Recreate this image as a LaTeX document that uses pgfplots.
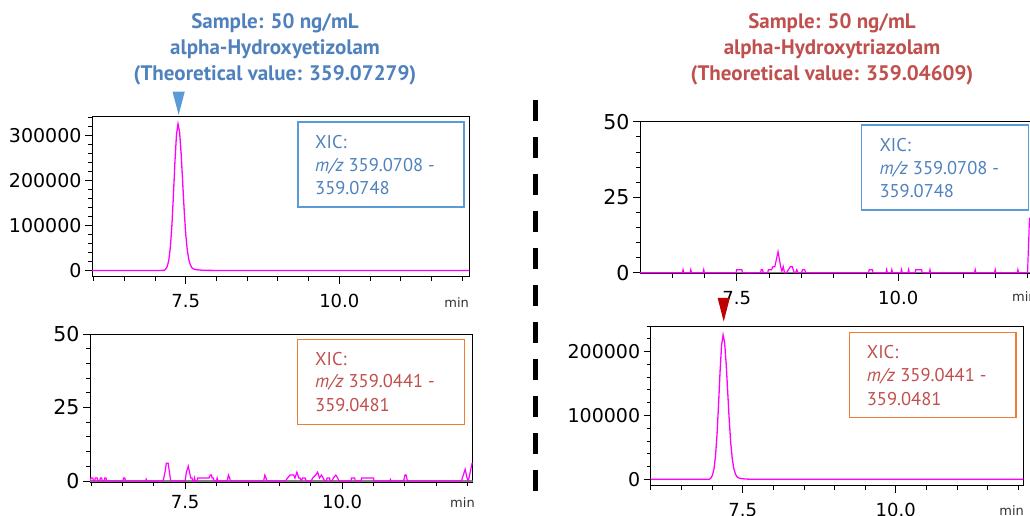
\documentclass[border=0pt]{standalone}
\usepackage{fontspec}
\setmainfont{PT Sans}
\newfontfamily\dejavu{DejaVu Sans}
\usepackage{pgfplots}
\pgfplotsset{compat=1.18}
\definecolor{tblue}{RGB}{79,129,189}
\definecolor{tred}{RGB}{192,80,77}
\definecolor{bblue}{RGB}{91,155,213}
\definecolor{borange}{RGB}{237,125,49}
\definecolor{arrred}{RGB}{192,0,0}
\definecolor{arrblue}{RGB}{91,155,213}
\definecolor{mag}{RGB}{255,0,255}

\pgfplotsset{chrom/.style={
  scale only axis, anchor=south west, clip mode=individual,
  axis line style={black, line width=0.8pt},
  tick style={black, line width=0.8pt},
  tick align=outside, tick pos=left,
  major tick length=7pt, minor tick length=4pt,
  xtick={7.5,10}, xticklabels={7.5,10.0},
  minor xtick={6,6.5,7,8,8.5,9,9.5,10.5,11,11.5,12},
  xticklabel style={font=\dejavu\fontsize{18}{18}\selectfont, yshift=-7pt},
  yticklabel style={font=\dejavu\fontsize{19}{19}\selectfont},
  scaled y ticks=false,
}}

\begin{document}
\begin{tikzpicture}[x=1pt,y=1pt]
\useasboundingbox (0,0) rectangle (1030,515);

% ---------- titles ----------
\begin{scope}[every node/.style={inner sep=0pt, anchor=base, font=\bfseries\fontsize{21}{21}\selectfont}]
\node[text=tblue] at (275,486) {Sample: 50 ng/mL};
\node[text=tblue] at (275,460) {alpha-Hydroxyetizolam};
\node[text=tblue] at (275,434) {(Theoretical value: 359.07279)};
\node[text=tred] at (832,486) {Sample: 50 ng/mL};
\node[text=tred] at (832,460) {alpha-Hydroxytriazolam};
\node[text=tred] at (832,434) {(Theoretical value: 359.04609)};
\end{scope}

% ---------- dashed separator ----------
\draw[black, line width=5pt, dash pattern=on 21pt off 16pt] (535.3,415) -- (535.3,24);

% ---------- panel A ----------
\begin{axis}[chrom, at={(92pt,238.3pt)}, width=377pt, height=160pt,
  xmin=5.975, xmax=12.11, ymin=-14000, ymax=342000,
  ytick={0,100000,200000,300000}, yticklabels={0,100000,200000,300000},
  minor ytick={20000,40000,60000,80000,120000,140000,160000,180000,220000,240000,260000,280000,320000,340000}]
\addplot[mag, line width=1.3pt] coordinates {
(5.975,0)(7.1,0)(7.15,200)(7.175,2900)(7.2,9000)(7.225,22700)(7.25,51300)(7.275,99900)(7.3,167500)
(7.325,242500)(7.35,302800)(7.375,326000)(7.4,308400)(7.425,261100)(7.45,197800)(7.475,134000)
(7.5,81300)(7.525,46000)(7.55,24500)(7.575,12300)(7.6,6000)(7.625,3300)(7.675,1500)(7.75,600)
(7.85,150)(7.95,0)(12.11,0)};
\fill[arrblue] (axis cs:7.285,398000) -- (axis cs:7.485,398000) -- (axis cs:7.385,346000) -- cycle;
\end{axis}

% ---------- panel B ----------
\begin{axis}[chrom, at={(90pt,33pt)}, width=382.7pt, height=148pt,
  xmin=5.985, xmax=12.08, ymin=-0.35, ymax=50,
  ytick={0,25,50}, yticklabels={0,25,50},
  xticklabel style={yshift=4pt},
  yticklabel style={font=\dejavu\fontsize{20.5}{20.5}\selectfont},
  minor ytick={5,10,15,20,30,35,40,45}]
\addplot[gray, line width=1.3pt] coordinates {(5.985,0)(12.08,0)};
\addplot[mag, line width=1.2pt] coordinates {
(5.985,0)(6.0,1)(6.03,1)(6.04,0)(6.06,0)(6.07,1)(6.1,1)(6.11,0)(6.14,0)(6.15,1)(6.17,1)(6.18,0)
(6.21,0)(6.22,1)(6.24,1)(6.25,0)(6.51,0)(6.52,1)(6.54,1)(6.55,0)(6.87,0)(6.88,0.6)(6.89,0)
(7.15,0)(7.18,3)(7.2,6)(7.23,6)(7.25,3)(7.27,0)(7.5,0)(7.52,3)(7.55,5)(7.57,3)(7.59,1)(7.61,1)
(7.62,0)(7.64,0)(7.65,1)(7.66,0)(7.69,0)(7.7,1)(7.88,1)(7.9,2)(7.92,2)(7.93,1)(7.95,1)(7.96,0)
(8.0,0)(8.01,1)(8.02,0)(8.17,0)(8.19,2)(8.21,1)(8.22,0)(8.75,0)(8.77,2)(8.79,1)(8.8,0)
(9.1,0)(9.13,1)(9.17,2)(9.23,2)(9.25,1)(9.28,3)(9.31,1)(9.33,1)(9.35,0)(9.37,1)(9.41,1)(9.43,0)
(9.51,0)(9.53,1)(9.58,2)(9.61,3)(9.64,1)(9.67,2)(9.7,1)(9.72,0)(9.75,0)(9.76,1)(9.8,1)(9.81,0)
(9.84,0)(9.86,1)(9.9,2)(9.93,1)(9.95,0)(10.14,0)(10.15,1)(10.2,1)(10.21,0)(10.3,0)(10.31,1)
(10.5,1)(10.51,0)(10.76,0)(10.77,0.5)(10.78,0)(10.98,0)(11.0,2)(11.02,2)(11.04,0)(11.9,0)
(11.93,2)(11.96,4)(11.99,1)(12.01,0)(12.04,3)(12.07,6)(12.08,6)};
\end{axis}

% ---------- panel C ----------
\begin{axis}[chrom, at={(640pt,241.5pt)}, width=394pt, height=151.8pt,
  xmin=6.004, xmax=12.1, ymin=-0.26, ymax=50,
  ytick={0,25,50}, yticklabels={0,25,50},
  yticklabel style={font=\dejavu\fontsize{20.5}{20.5}\selectfont},
  minor ytick={5,10,15,20,30,35,40,45}]
\addplot[gray, line width=1.3pt] coordinates {(6.004,0)(12.1,0)};
\addplot[mag, line width=1.2pt] coordinates {
(6.004,0)(6.66,0)(6.67,1)(6.68,0)(6.78,0)(6.79,1)(6.8,0)(6.98,0)(6.99,1)(7.0,0)(7.49,0)(7.5,1)
(7.58,1)(7.59,0)(7.87,0)(7.88,1)(7.9,1)(7.91,0)(7.98,0)(7.99,1)(8.04,1)(8.06,2)(8.09,2)(8.14,7)
(8.18,2)(8.2,0.5)(8.22,2)(8.24,0)(8.27,0)(8.3,1)(8.33,2)(8.36,2)(8.39,0)(8.41,0)(8.43,1)(8.45,0)
(8.5,0)(8.52,1)(8.55,1)(8.57,0)(9.54,0)(9.55,1)(9.6,1)(9.61,0)(9.81,0)(9.82,1)(9.83,0)(9.89,0)
(9.9,1)(9.91,0)(10.04,0)(10.05,1)(10.06,0)(10.15,0)(10.16,1)(10.17,0)(10.26,0)(10.27,1)(10.36,1)
(10.37,0)(10.48,0)(10.49,1)(10.5,0)(11.18,0)(11.19,1)(11.2,0)(11.49,0)(11.5,1)(11.51,0)(11.84,0)
(11.85,1)(11.86,0)(12.0,0)(12.03,18)(12.1,18)};
\end{axis}

% ---------- panel D ----------
\begin{axis}[chrom, at={(650.7pt,29.3pt)}, width=372.6pt, height=159.7pt,
  xmin=5.997, xmax=12.085, ymin=-10000, ymax=240000,
  ytick={0,100000,200000}, yticklabels={0,100000,200000},
  minor ytick={20000,40000,60000,80000,120000,140000,160000,180000,220000,240000}]
\addplot[mag, line width=1.3pt] coordinates {
(5.997,0)(6.9,0)(6.955,140)(6.98,2000)(7.005,6200)(7.03,15700)(7.055,35600)(7.08,69200)(7.105,116100)
(7.13,168100)(7.155,209900)(7.18,226000)(7.205,213800)(7.23,181000)(7.255,137100)(7.28,92900)
(7.305,56400)(7.33,31900)(7.355,17000)(7.38,8500)(7.405,4200)(7.43,2300)(7.48,1000)(7.555,400)
(7.655,100)(7.755,0)(12.085,0)};
\fill[arrred] (axis cs:7.09,284000) -- (axis cs:7.29,284000) -- (axis cs:7.19,247000) -- cycle;
\end{axis}

% ---------- XIC boxes ----------
\begin{scope}[every node/.style={inner sep=0pt, anchor=base west, font=\fontsize{18.5}{18.5}\selectfont}]
\draw[bblue, line width=1.2pt] (298,393) rectangle (464,308);
\node[text=tblue] at (315,366.7) {XIC:};
\node[text=tblue] at (315,344) {\textit{m/z} 359.0708 -};
\node[text=tblue] at (315,320.7) {359.0748};

\draw[borange, line width=1.2pt] (297.7,175.7) rectangle (464.3,90.7);
\node[text=tred] at (315,150) {XIC:};
\node[text=tred] at (315,127.7) {\textit{m/z} 359.0441 -};
\node[text=tred] at (315,104) {359.0481};

\draw[bblue, line width=1.2pt] (861.7,390) rectangle (1028.3,305);
\node[text=tblue] at (879.3,363.3) {XIC:};
\node[text=tblue] at (879.3,341) {\textit{m/z} 359.0708 -};
\node[text=tblue] at (879.3,317.7) {359.0748};

\draw[borange, line width=1.2pt] (849.3,182.3) rectangle (1016,97.7);
\node[text=tred] at (866.7,156.7) {XIC:};
\node[text=tred] at (866.7,133.3) {\textit{m/z} 359.0441 -};
\node[text=tred] at (866.7,110) {359.0481};
\end{scope}

% ---------- "min" labels ----------
\begin{scope}[every node/.style={inner sep=0pt, font=\dejavu\fontsize{13}{13}\selectfont, text=black!80}]
\node at (456.7,212.3) {min};
\node at (462.5,12.3) {min};
\node[anchor=west] at (1012,218.3) {min};
\node at (1011.7,4) {min};
\end{scope}
\end{tikzpicture}
\end{document}
